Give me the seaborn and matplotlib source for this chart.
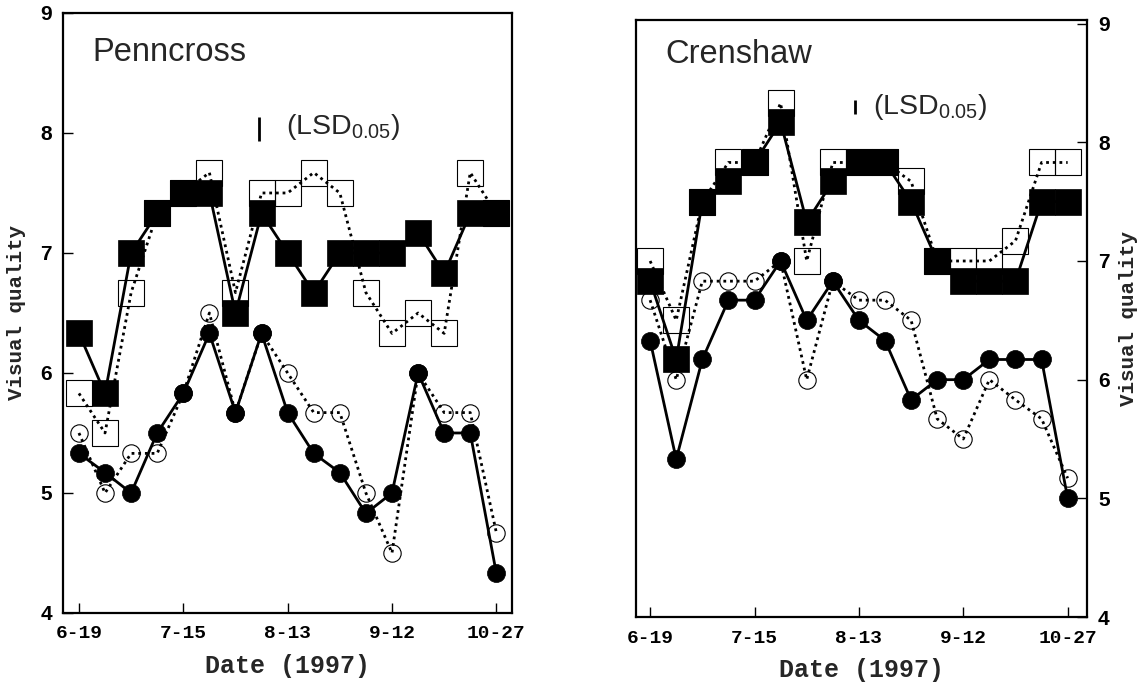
import matplotlib
matplotlib.use("Agg")
import matplotlib.pyplot as plt
import numpy as np
import seaborn as sns

# ─── Data (visual quality, 17 sampling dates, 1997) ─────────────────────────
DATES = ["6-19", "7-15", "8-13", "9-12", "10-27"]
DATE_IDX = [0, 4, 8, 12, 16]
N_DATES = 17
Y_TICKS = [4, 5, 6, 7, 8, 9]

penn_filled_sq = [6.33, 5.83, 7.0, 7.33, 7.5, 7.5, 6.5, 7.33, 7.0, 6.67, 7.0, 7.0, 7.0, 7.17, 6.83, 7.33, 7.33]
penn_open_sq = [5.83, 5.5, 6.67, 7.33, 7.5, 7.67, 6.67, 7.5, 7.5, 7.67, 7.5, 6.67, 6.33, 6.5, 6.33, 7.67, 7.33]
penn_filled_ci = [5.33, 5.17, 5.0, 5.5, 5.83, 6.33, 5.67, 6.33, 5.67, 5.33, 5.17, 4.83, 5.0, 6.0, 5.5, 5.5, 4.33]
penn_open_ci = [5.5, 5.0, 5.33, 5.33, 5.83, 6.5, 5.67, 6.33, 6.0, 5.67, 5.67, 5.0, 4.5, 6.0, 5.67, 5.67, 4.67]

cren_filled_sq = [6.83, 6.17, 7.5, 7.67, 7.83, 8.17, 7.33, 7.67, 7.83, 7.83, 7.5, 7.0, 6.83, 6.83, 6.83, 7.5, 7.5]
cren_open_sq = [7.0, 6.5, 7.5, 7.83, 7.83, 8.33, 7.0, 7.83, 7.83, 7.83, 7.67, 7.0, 7.0, 7.0, 7.17, 7.83, 7.83]
cren_filled_ci = [6.33, 5.33, 6.17, 6.67, 6.67, 7.0, 6.5, 6.83, 6.5, 6.33, 5.83, 6.0, 6.0, 6.17, 6.17, 6.17, 5.0]
cren_open_ci = [6.67, 6.0, 6.83, 6.83, 6.83, 7.0, 6.0, 6.83, 6.67, 6.67, 6.5, 5.67, 5.5, 6.0, 5.83, 5.67, 5.17]

# LSD bars: (x, y_low, y_high)
penn_lsd = (6.9, 7.93, 8.13)
cren_lsd = (7.85, 8.24, 8.36)

sns.set_style("ticks")
plt.rcParams["font.family"] = ["Liberation Sans", "DejaVu Sans"]
plt.rcParams["mathtext.default"] = "regular"

SANS = "Liberation Sans"
MONO = "Liberation Mono"
DOT = (0, (1, 1.4))


def draw_panel(ax, filled_sq, open_sq, filled_ci, open_ci, right=False):
    x = np.arange(N_DATES)
    # open symbols, dotted lines
    sns.lineplot(x=x, y=open_ci, ax=ax, color="black", linestyle=DOT, linewidth=2,
                 marker="o", markersize=12.5, markerfacecolor="none",
                 markeredgecolor="black", markeredgewidth=0.8, zorder=2)
    sns.lineplot(x=x, y=filled_ci, ax=ax, color="black", linestyle="-", linewidth=2,
                 marker="o", markersize=13, markerfacecolor="black",
                 markeredgecolor="black", markeredgewidth=0.5, zorder=3)
    sns.lineplot(x=x, y=open_sq, ax=ax, color="black", linestyle=DOT, linewidth=2,
                 marker="s", markersize=18.5, markerfacecolor="none",
                 markeredgecolor="black", markeredgewidth=0.8, zorder=4)
    sns.lineplot(x=x, y=filled_sq, ax=ax, color="black", linestyle="-", linewidth=2,
                 marker="s", markersize=18.5, markerfacecolor="black",
                 markeredgecolor="black", markeredgewidth=0.5, zorder=5)

    if right:
        ax.yaxis.tick_right()
        ax.yaxis.set_label_position("right")
    ax.set_yticks(Y_TICKS)
    ax.set_yticklabels([str(v) for v in Y_TICKS], fontfamily=SANS, fontweight="bold", fontsize=15)
    ax.set_xticks(DATE_IDX)
    ax.set_xticklabels(DATES, fontfamily=MONO, fontweight="bold", fontsize=14)
    ax.tick_params(axis="both", direction="in", length=7, width=1, colors="black")
    ax.tick_params(axis="x", pad=9)
    ax.tick_params(axis="y", pad=8)
    for sp in ax.spines.values():
        sp.set_visible(True)
        sp.set_linewidth(1.6)
        sp.set_color("black")
    ax.set_xlabel("Date (1997)", fontfamily=MONO, fontweight="bold", fontsize=18)
    ax.xaxis.set_label_coords(0.5, -0.068)
    ax.set_ylabel("Visual quality", fontfamily=MONO, fontweight="bold", fontsize=15)
    ax.grid(False)


fig = plt.figure(figsize=(11.46, 6.83), dpi=100)
ax1 = fig.add_axes([0.055, 0.1025, 0.392, 0.8785])
ax2 = fig.add_axes([0.555, 0.0966, 0.3935, 0.874])

# Penncross
draw_panel(ax1, penn_filled_sq, penn_open_sq, penn_filled_ci, penn_open_ci)
ax1.set_xlim(-0.61, 16.61)
ax1.set_ylim(4, 9)
ax1.yaxis.set_label_coords(-0.083, 0.5)
ax1.text(0.5, 8.67, "Penncross", fontfamily=SANS, fontsize=23.5, va="center", ha="left")
ax1.vlines(penn_lsd[0], penn_lsd[1], penn_lsd[2], color="black", linewidth=2)
ax1.text(7.92, 8.05, "(LSD$_{0.05}$)", fontfamily=SANS, fontsize=20.5, va="center", ha="left")

# Crenshaw
draw_panel(ax2, cren_filled_sq, cren_open_sq, cren_filled_ci, cren_open_ci, right=True)
ax2.set_xlim(-0.54, 16.74)
ax2.set_ylim(4, 9.03)
ax2.yaxis.set_label_coords(1.072, 0.5)
ax2.text(0.57, 8.74, "Crenshaw", fontfamily=SANS, fontsize=23.5, va="center", ha="left")
ax2.vlines(cren_lsd[0], cren_lsd[1], cren_lsd[2], color="black", linewidth=2)
ax2.text(8.54, 8.3, "(LSD$_{0.05}$)", fontfamily=SANS, fontsize=20.5, va="center", ha="left")

fig.savefig("out.png", dpi=100)
plt.close(fig)
